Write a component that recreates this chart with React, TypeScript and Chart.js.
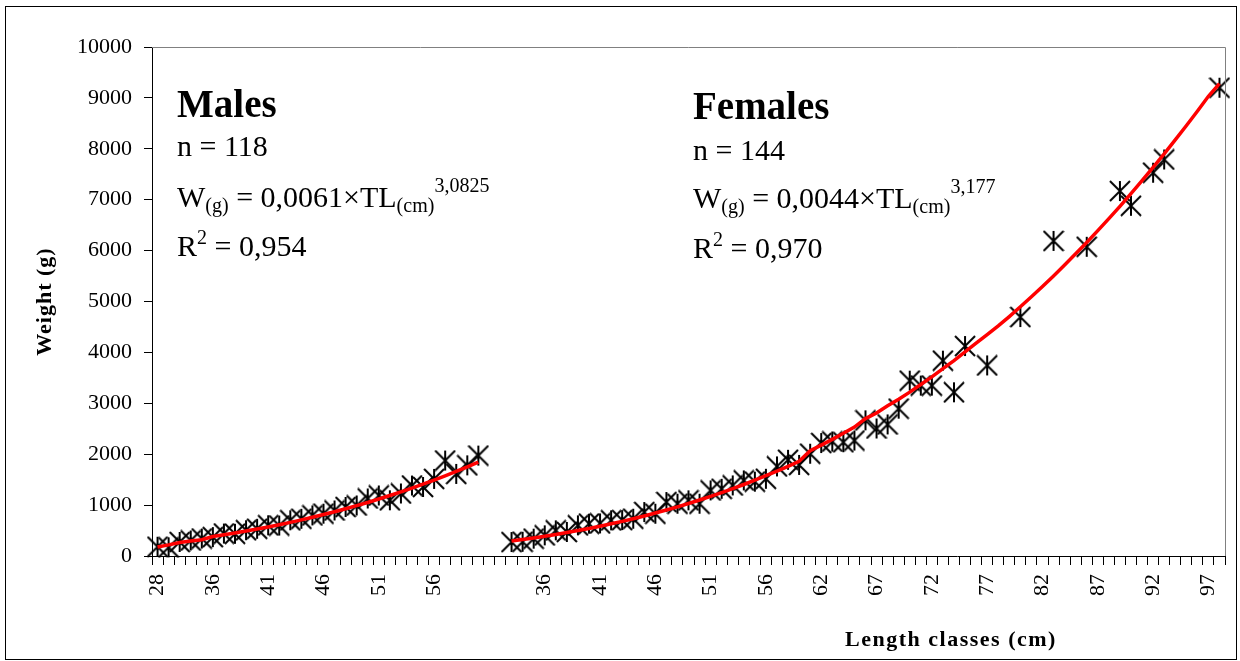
import React, { useEffect, useRef } from "react";
import { Chart, registerables } from "chart.js";

Chart.register(...registerables);

const FONT = '"Liberation Serif", "Times New Roman", serif';

// Category axis: male length classes, two empty separator classes, female length classes
const maleLengths = [
  "28", "30", "32", "33", "34", "36", "37", "38", "39", "40", "41", "42", "43", "44", "45",
  "46", "47", "48", "49", "50", "51", "52", "53", "54", "55", "56", "57", "58", "59", "60",
];
const gapLabels = ["", ""];
const femaleLengths = [
  "33", "34", "35", "36", "37", "38", "39", "40", "41", "42", "43", "44", "45", "46", "47",
  "48", "49", "50", "51", "52", "53", "54", "55", "56", "57", "58", "59", "61", "62", "63",
  "64", "65", "66", "67", "68", "69", "70", "71", "72", "73", "74", "75", "76", "77", "78",
  "79", "80", "81", "82", "83", "84", "85", "86", "87", "88", "89", "90", "91", "92", "93",
  "94", "95", "96", "97", "98",
];

// Observed mean weights (g)
const maleWeight = [
  182, 170, 276, 305, 343, 372, 441, 436, 506, 535, 604, 598, 702, 731, 797,
  832, 895, 963, 993, 1130, 1189, 1095, 1228, 1385, 1356, 1515, 1875, 1613, 1781, 1973,
];
const femaleWeight = [
  275, 280, 341, 406, 504, 472, 602, 635, 640, 700, 705, 733, 864, 831, 1060,
  1027, 1093, 1027, 1289, 1321, 1387, 1485, 1460, 1517, 1760, 1890, 1790, 2010, 2220, 2250,
  2236, 2269, 2665, 2505, 2585, 2895, 3445, 3348, 3348, 3838, 3217, 4125, null, 3745, null,
  null, 4695, null, null, 6190, null, null, 6075, null, null, 7170, 6880, null, 7530, 7790,
  null, null, null, null, 9200,
];

// Fitted curves (g)
const maleFit = [
  176, 218, 266, 293, 321, 382, 416, 452, 490, 530, 571, 615, 661, 710, 761,
  814, 869, 928, 989, 1052, 1119, 1189, 1261, 1335, 1413, 1492, 1576, 1662, 1751, 1846,
];
const femaleFit = [
  294, 323, 354, 387, 423, 460, 500, 541, 586, 632, 681, 733, 787, 844, 904,
  966, 1032, 1100, 1171, 1246, 1324, 1405, 1489, 1577, 1668, 1762, 1861, 2069, 2178, 2292,
  2410, 2532, 2700, 2810, 2950, 3080, 3220, 3370, 3520, 3680, 3840, 4010, 4180, 4350, 4520,
  4704, 4896, 5093, 5296, 5503, 5717, 5937, 6160, 6392, 6627, 6870, 7119, 7374, 7634, 7901,
  8174, 8453, 8738, 9031, 9280,
];

const yTicks = [0, 1000, 2000, 3000, 4000, 5000, 6000, 7000, 8000, 9000, 10000];
const labelEvery = 5;

const yTitle = "Weight (g)";
const xTitle = "Length classes (cm)";

type Seg = { t: string; size: number; dy?: number; bold?: boolean };

function drawRich(ctx: CanvasRenderingContext2D, x: number, y: number, segs: Seg[]) {
  let cx = x;
  for (const s of segs) {
    ctx.font = `${s.bold ? "bold " : ""}${s.size}px ${FONT}`;
    ctx.fillText(s.t, cx, y + (s.dy || 0));
    cx += ctx.measureText(s.t).width;
  }
}

function makeStar(): HTMLCanvasElement {
  const c = document.createElement("canvas");
  c.width = 22;
  c.height = 22;
  const g = c.getContext("2d")!;
  g.strokeStyle = "#000";
  g.lineWidth = 2;
  g.beginPath();
  g.moveTo(1, 1);
  g.lineTo(21, 21);
  g.moveTo(21, 1);
  g.lineTo(1, 21);
  g.moveTo(11, 1);
  g.lineTo(11, 21);
  g.stroke();
  return c;
}

const decor = {
  id: "decor",
  afterDraw(chart: any) {
    const ctx: CanvasRenderingContext2D = chart.ctx;
    const a = chart.chartArea;
    ctx.save();
    // plot area gray border (top and right)
    ctx.strokeStyle = "#808080";
    ctx.lineWidth = 1;
    ctx.beginPath();
    ctx.moveTo(a.left, Math.round(a.top) + 0.5);
    ctx.lineTo(Math.round(a.right) + 0.5, Math.round(a.top) + 0.5);
    ctx.lineTo(Math.round(a.right) + 0.5, a.bottom);
    ctx.stroke();
    // outer frame
    ctx.strokeStyle = "#000";
    ctx.strokeRect(5.5, 6.5, 1231, 653);

    ctx.fillStyle = "#000";
    ctx.textAlign = "left";
    ctx.textBaseline = "alphabetic";
    // Males annotation
    drawRich(ctx, 177, 117, [{ t: "Males", size: 39, bold: true }]);
    drawRich(ctx, 177, 156, [{ t: "n = 118", size: 30 }]);
    drawRich(ctx, 177, 207, [
      { t: "W", size: 30 },
      { t: "(g)", size: 20, dy: 5 },
      { t: " = 0,0061×TL", size: 30 },
      { t: "(cm)", size: 20, dy: 5 },
      { t: "3,0825", size: 20, dy: -15 },
    ]);
    drawRich(ctx, 177, 256, [
      { t: "R", size: 30 },
      { t: "2", size: 20, dy: -12 },
      { t: " = 0,954", size: 30 },
    ]);
    // Females annotation
    drawRich(ctx, 693, 119, [{ t: "Females", size: 39, bold: true }]);
    drawRich(ctx, 693, 160, [{ t: "n = 144", size: 30 }]);
    drawRich(ctx, 693, 208, [
      { t: "W", size: 30 },
      { t: "(g)", size: 20, dy: 5 },
      { t: " = 0,0044×TL", size: 30 },
      { t: "(cm)", size: 20, dy: 5 },
      { t: "3,177", size: 20, dy: -15 },
    ]);
    drawRich(ctx, 693, 258, [
      { t: "R", size: 30 },
      { t: "2", size: 20, dy: -12 },
      { t: " = 0,970", size: 30 },
    ]);

    // axis titles
    (ctx as any).letterSpacing = "1.5px";
    ctx.font = `bold 22px ${FONT}`;
    ctx.textAlign = "center";
    ctx.fillText(xTitle, 951, 646);
    (ctx as any).letterSpacing = "1px";
    ctx.translate(45, (a.top + a.bottom) / 2);
    ctx.rotate(-Math.PI / 2);
    ctx.textBaseline = "middle";
    ctx.fillText(yTitle, 0, 0);
    (ctx as any).letterSpacing = "0px";
    ctx.restore();
  },
};

export default function App() {
  const ref = useRef<HTMLCanvasElement>(null);

  useEffect(() => {
    const canvas = ref.current;
    if (!canvas) return;
    const labels = [...maleLengths, ...gapLabels, ...femaleLengths];
    const femaleStart = maleLengths.length + gapLabels.length;
    const pad = (arr: (number | null)[], offset: number) =>
      labels.map((_, i) => {
        const k = i - offset;
        return k >= 0 && k < arr.length ? arr[k] : null;
      });
    const star = makeStar();

    const lineDs = (data: (number | null)[]) => ({
      data,
      borderColor: "#ff0000",
      backgroundColor: "#ff0000",
      borderWidth: 3.5,
      pointRadius: 0,
      fill: false,
      tension: 0,
      spanGaps: false,
    });
    const ptDs = (data: (number | null)[]) => ({
      data,
      showLine: false,
      pointStyle: star,
      pointRadius: 10,
      borderColor: "#000",
      backgroundColor: "#000",
      clip: false as any,
    });

    const chart = new Chart(canvas, {
      type: "line",
      data: {
        labels,
        datasets: [
          lineDs(pad(maleFit, 0)),
          lineDs(pad(femaleFit, femaleStart)),
          ptDs(pad(maleWeight, 0)),
          ptDs(pad(femaleWeight, femaleStart)),
        ] as any,
      },
      options: {
        animation: false,
        responsive: false,
        devicePixelRatio: 1,
        layout: { padding: { top: 47, right: 15, left: 0, bottom: 0 } },
        plugins: { legend: { display: false }, tooltip: { enabled: false } },
        scales: {
          x: {
            type: "category",
            offset: true,
            grid: {
              offset: true,
              drawOnChartArea: false,
              drawTicks: true,
              tickLength: 9,
              color: "#000",
              lineWidth: 1,
            },
            border: { color: "#000", width: 1 },
            ticks: {
              autoSkip: false,
              maxRotation: 90,
              minRotation: 90,
              padding: 9,
              color: "#000",
              font: { family: FONT, size: 22 },
              callback: (_v: any, i: number) => (i % labelEvery === 0 ? labels[i] : ""),
            },
            afterFit: (s: any) => {
              s.height = 105;
              s.paddingLeft = 0;
              s.paddingRight = 0;
            },
          },
          y: {
            min: yTicks[0],
            max: yTicks[yTicks.length - 1],
            afterBuildTicks: (s: any) => {
              s.ticks = yTicks.map((v) => ({ value: v }));
            },
            grid: { drawOnChartArea: false, tickLength: 8, color: "#000", lineWidth: 1 },
            border: { color: "#000", width: 1 },
            ticks: {
              padding: 12,
              color: "#000",
              font: { family: FONT, size: 22 },
              callback: (v: any) => String(v),
            },
            afterFit: (s: any) => {
              s.width = 152;
              s.paddingTop = 0;
              s.paddingBottom = 0;
            },
          },
        },
      },
      plugins: [decor],
    });
    return () => chart.destroy();
  }, []);

  return (
    <div style={{ position: "fixed", left: 0, top: 0, width: 1240, height: 661, background: "#fff" }}>
      <canvas ref={ref} width={1240} height={661} style={{ display: "block", width: 1240, height: 661 }} />
    </div>
  );
}
